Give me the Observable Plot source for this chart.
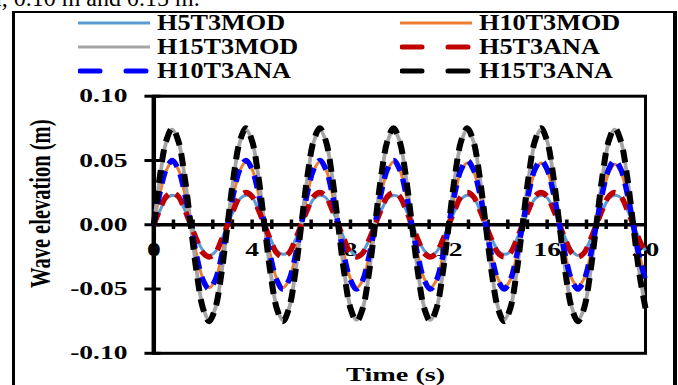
<!DOCTYPE html>
<html><head><meta charset="utf-8">
<script src="https://cdn.jsdelivr.net/npm/d3@7"></script>
<script src="https://cdn.jsdelivr.net/npm/@observablehq/plot@0.6"></script>
<style>
body{margin:0;background:#fff;}
#wrap{position:relative;width:678px;height:385px;overflow:hidden;font-family:"Liberation Serif","Times New Roman",serif;background:#fff;}
#frame{position:absolute;left:12px;top:10.5px;height:400px;border-left:3.5px solid #000;border-right:4px solid #000;border-top:2.5px solid #000;box-sizing:border-box;width:665px;}
#topnote{position:absolute;left:0;top:-14px;font-size:24px;line-height:24px;white-space:nowrap;color:#000;}
.leg{position:absolute;display:flex;align-items:center;height:24px;}
.leg svg{display:block;}
.leg span{font-weight:bold;font-size:23px;line-height:24px;display:inline-block;transform:scaleX(1.14);transform-origin:left center;white-space:nowrap;color:#000;}
#chart{position:absolute;left:0;top:85px;}
</style></head>
<body>
<div id="wrap">
  <div id="topnote">of 0.05 m, 0.10 m and 0.15 m.</div>
  <div id="frame"></div>
  <div id="legend"></div>
  <div id="chart"></div>
</div>
<script>
// ---- data ----
const time = [0,0.25,0.5,0.75,1,1.25,1.5,1.75,2,2.25,2.5,2.75,3,3.25,3.5,3.75,4,4.25,4.5,4.75,5,5.25,5.5,5.75,6,6.25,6.5,6.75,7,7.25,7.5,7.75,8,8.25,8.5,8.75,9,9.25,9.5,9.75,10,10.25,10.5,10.75,11,11.25,11.5,11.75,12,12.25,12.5,12.75,13,13.25,13.5,13.75,14,14.25,14.5,14.75,15,15.25,15.5,15.75,16,16.25,16.5,16.75,17,17.25,17.5,17.75,18,18.25,18.5,18.75,19,19.25,19.5,19.75,20];

const H5T3MOD = [0,0.011,0.020,0.023,0.021,0.012,0.001,-0.011,-0.020,-0.024,-0.021,-0.012,
 0,0.011,0.020,0.023,0.021,0.012,0.001,-0.011,-0.020,-0.023,-0.021,-0.012,
 0,0.011,0.020,0.023,0.021,0.012,0.001,-0.011,-0.020,-0.024,-0.021,-0.012,
 0,0.011,0.020,0.023,0.021,0.012,0.001,-0.011,-0.020,-0.024,-0.021,-0.012,
 0,0.011,0.020,0.023,0.021,0.012,0.001,-0.011,-0.020,-0.023,-0.021,-0.012,
 0,0.011,0.020,0.023,0.021,0.012,0.001,-0.011,-0.020,-0.024,-0.021,-0.012,
 0,0.011,0.020,0.023,0.021,0.012,0.001,-0.011,-0.020];
const H10T3MOD = [0,0.024,0.042,0.049,0.043,0.025,0.001,-0.024,-0.042,-0.049,-0.043,-0.025,
 0,0.024,0.042,0.049,0.043,0.025,0.001,-0.024,-0.042,-0.049,-0.043,-0.025,
 0,0.024,0.042,0.049,0.043,0.025,0.001,-0.024,-0.042,-0.049,-0.043,-0.025,
 0,0.024,0.042,0.049,0.043,0.025,0.001,-0.024,-0.042,-0.049,-0.043,-0.025,
 0,0.024,0.042,0.048,0.042,0.025,0.001,-0.024,-0.042,-0.049,-0.043,-0.025,
 0,0.024,0.041,0.048,0.042,0.025,0.001,-0.024,-0.042,-0.048,-0.042,-0.025,
 0,0.023,0.040,0.047,0.041,0.024,0.001,-0.023,-0.041];
const H15T3MOD = [0,0.037,0.064,0.074,0.065,0.038,0.001,-0.037,-0.064,-0.074,-0.065,-0.038,
 0,0.037,0.064,0.074,0.065,0.038,0.001,-0.037,-0.064,-0.074,-0.065,-0.038,
 0,0.037,0.064,0.074,0.065,0.038,0.001,-0.037,-0.064,-0.074,-0.065,-0.038,
 0,0.037,0.064,0.074,0.065,0.038,0.001,-0.037,-0.064,-0.074,-0.065,-0.038,
 0,0.037,0.064,0.074,0.065,0.038,0.001,-0.037,-0.064,-0.074,-0.065,-0.038,
 0,0.037,0.064,0.074,0.065,0.038,0.001,-0.037,-0.064,-0.074,-0.065,-0.038,
 0,0.037,0.064,0.074,0.065,0.038,0.001,-0.037,-0.064];
const H5T3ANA = [0,0.012,0.022,0.025,0.022,0.012,0,-0.012,-0.022,-0.025,-0.022,-0.012,
 0,0.012,0.022,0.025,0.022,0.012,0,-0.012,-0.022,-0.025,-0.022,-0.012,
 0,0.012,0.022,0.025,0.022,0.012,0,-0.012,-0.022,-0.025,-0.022,-0.012,
 0,0.012,0.022,0.025,0.022,0.012,0,-0.012,-0.022,-0.025,-0.022,-0.012,
 0,0.012,0.022,0.025,0.022,0.012,0,-0.012,-0.022,-0.025,-0.022,-0.012,
 0,0.012,0.022,0.025,0.022,0.012,0,-0.012,-0.022,-0.025,-0.022,-0.012,
 0,0.012,0.022,0.025,0.022,0.012,0,-0.012,-0.022];
const H10T3ANA = [0,0.025,0.043,0.05,0.043,0.025,0,-0.025,-0.043,-0.05,-0.043,-0.025,
 0,0.025,0.043,0.05,0.043,0.025,0,-0.025,-0.043,-0.05,-0.043,-0.025,
 0,0.025,0.043,0.05,0.043,0.025,0,-0.025,-0.043,-0.05,-0.043,-0.025,
 0,0.025,0.043,0.05,0.043,0.025,0,-0.025,-0.043,-0.05,-0.043,-0.025,
 0,0.025,0.043,0.05,0.043,0.025,0,-0.025,-0.043,-0.05,-0.043,-0.025,
 0,0.025,0.043,0.05,0.043,0.025,0,-0.025,-0.043,-0.05,-0.043,-0.025,
 0,0.025,0.043,0.05,0.043,0.025,0,-0.025,-0.043];
const H15T3ANA = [0,0.038,0.065,0.075,0.065,0.038,0,-0.038,-0.065,-0.075,-0.065,-0.038,
 0,0.038,0.065,0.075,0.065,0.038,0,-0.038,-0.065,-0.075,-0.065,-0.038,
 0,0.038,0.065,0.075,0.065,0.038,0,-0.038,-0.065,-0.075,-0.065,-0.038,
 0,0.038,0.065,0.075,0.065,0.038,0,-0.038,-0.065,-0.075,-0.065,-0.038,
 0,0.038,0.065,0.075,0.065,0.038,0,-0.038,-0.065,-0.075,-0.065,-0.038,
 0,0.038,0.065,0.075,0.065,0.038,0,-0.038,-0.065,-0.075,-0.065,-0.038,
 0,0.038,0.065,0.075,0.065,0.038,0,-0.038,-0.065];

const seriesNames = ["H5T3MOD","H10T3MOD","H15T3MOD","H5T3ANA","H10T3ANA","H15T3ANA"];
const seriesValues = [H5T3MOD,H10T3MOD,H15T3MOD,H5T3ANA,H10T3ANA,H15T3ANA];
const xLabelTicks = [0,4,8,12,16,20];
const xMinorTicks = [0.8,1.6,2.4,3.2,4,4.8,5.6,6.4,7.2,8,8.8,9.6,10.4,11.2,12,12.8,13.6,14.4,15.2,16,16.8,17.6,18.4,19.2];
const yTicks = [0.1,0.05,0,-0.05,-0.1];
const legendOrder = ["H5T3MOD","H10T3MOD","H15T3MOD","H5T3ANA","H10T3ANA","H15T3ANA"];
const yTitle = "Wave elevation (m)";
const xTitle = "Time (s)";

// ---- styles ----
const styles = {
  H5T3MOD:  {color:"#5B9BD5", width:3,   dash:null},
  H10T3MOD: {color:"#ED7D31", width:3,   dash:null},
  H15T3MOD: {color:"#A5A5A5", width:3.8, dash:null},
  H5T3ANA:  {color:"#C00000", width:5.5, dash:"13 8"},
  H10T3ANA: {color:"#0000FF", width:5.5, dash:"13 8"},
  H15T3ANA: {color:"#000000", width:6,   dash:"13 8"}
};

const bold = {fontWeight:"bold", fill:"black"};
const lineMarks = seriesNames.map((name, k) => {
  const st = styles[name];
  const data = time.map((t, i) => ({t, v: seriesValues[k][i]}));
  return Plot.line(data, {x:"t", y:"v", stroke: st.color, strokeWidth: st.width,
    strokeDasharray: st.dash || undefined, curve:"catmull-rom", strokeLinecap:"butt"});
});

const chart = Plot.plot({
  width: 678, height: 300,
  marginLeft: 153.3, marginRight: 33, marginTop: 10.7, marginBottom: 32.2,
  x: {domain:[0,20], axis:null},
  y: {domain:[-0.1,0.1], axis:null},
  style: {fontFamily:"'Liberation Serif','Times New Roman',serif", background:"transparent", overflow:"visible"},
  marks: [
    Plot.text(xLabelTicks, {x: d => d, y: 0, dy: 25, text: d => String(d), fontSize: 19, ...bold}),
    Plot.text(yTicks, {x: 0, y: d => d, text: d => d.toFixed(2), textAnchor:"end", dx:-26.3, fontSize:19, ...bold}),
    Plot.text([yTitle], {frameAnchor:"left", textAnchor:"middle", lineAnchor:"middle", dx:-113.3, dy:-21, fontSize:20.5, ...bold}),
    Plot.text([xTitle], {frameAnchor:"bottom", dx:-4, dy:27.5, fontSize:19.5, ...bold}),
    Plot.frame({stroke:"black", strokeWidth:3}),
    Plot.ruleY([0], {stroke:"black", strokeWidth:3.5}),
    Plot.ruleX(xMinorTicks, {x: d => d, y1:-0.0037, y2:0.0037, stroke:"black", strokeWidth:3.5}),
    Plot.ruleY(yTicks, {y: d => d, x1:-0.36, x2:0.3, stroke:"black", strokeWidth:3}),
    Plot.ruleX([0], {stroke:"black", strokeWidth:4.5}),
    ...lineMarks
  ]
});

// horizontal stretch of the chart's text (as in the reference picture); the y title is also turned upright
d3.select(chart).selectAll("text").each(function(){
  const el = this;
  let X = 0, Y = 0;
  const t = el.getAttribute("transform") || "";
  const m = t.match(/translate\(\s*([-\d.e]+)[\s,]+([-\d.e]+)\s*\)/);
  if (m) { X = +m[1]; Y = +m[2]; }
  const xa = el.getAttribute("x");
  if (xa !== null && !isNaN(parseFloat(xa)) && !/em/.test(xa)) { X += parseFloat(xa); el.removeAttribute("x"); }
  const ya = el.getAttribute("y");
  if (ya !== null && !isNaN(parseFloat(ya)) && !/em/.test(ya)) { Y += parseFloat(ya); el.removeAttribute("y"); }
  const rot = el.textContent === yTitle ? " rotate(-90)" : "";
  el.setAttribute("transform", `translate(${X},${Y}) scale(1.45,1)${rot}`);
});
document.getElementById("chart").appendChild(chart);

// top note, partly above the page (cut off as in the reference)
const note = document.getElementById("topnote");
note.style.left = (200 - note.offsetWidth) + "px";

// ---- legend ----
const legendPos = [
  {left:78, top:23, sw:72}, {left:400, top:23, sw:72},
  {left:78, top:47, sw:72}, {left:400, top:47, sw:72},
  {left:78, top:71, sw:72}, {left:400, top:71, sw:72}
];
const legend = document.getElementById("legend");
legendOrder.forEach((name, i) => {
  const st = styles[name], p = legendPos[i];
  const div = document.createElement("div");
  div.className = "leg";
  div.style.left = p.left + "px";
  div.style.top = (p.top - 12) + "px";
  const svg = d3.create("svg").attr("width", p.sw).attr("height", 12);
  if (st.dash) {
    svg.append("line").attr("x1", 2).attr("x2", p.sw - 2).attr("y1", 6).attr("y2", 6)
      .attr("stroke", st.color).attr("stroke-width", 5).attr("stroke-linecap", "round")
      .attr("stroke-dasharray", "20 26");
  } else {
    svg.append("line").attr("x1", 0).attr("x2", p.sw).attr("y1", 6).attr("y2", 6)
      .attr("stroke", st.color).attr("stroke-width", 3);
  }
  div.appendChild(svg.node());
  const span = document.createElement("span");
  span.style.marginLeft = "7px";
  span.textContent = name;
  div.appendChild(span);
  legend.appendChild(div);
});
</script>
</body></html>
